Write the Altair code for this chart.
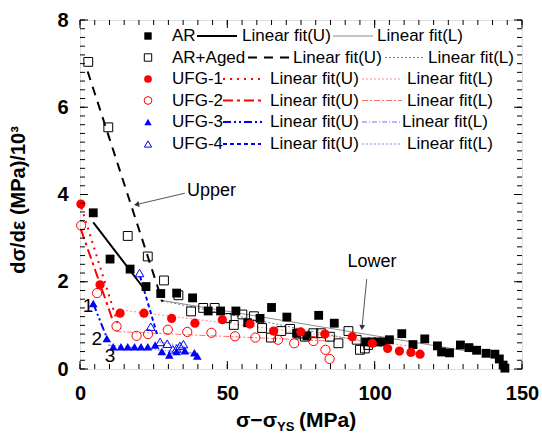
import altair as alt
import pandas as pd

FONT = "Liberation Sans"
W, H = 442, 349
RED, BLUE = "#ff0000", "#0000ff"

# ---------------- data ----------------
ar_x = [4.5, 10.2, 17.0, 22.4, 27.4, 32.8, 38.2, 43.5, 47.7, 52.9, 56.9, 61.1, 65.0, 70.2, 73.5, 77.0, 81.0, 86.3,
        97.0, 99.0, 101.0, 103.0, 105.0, 109.2, 113.0, 117.0, 121.3, 122.7, 125.4, 129.1, 132.0, 134.6, 137.8,
        140.8, 142.3, 143.6, 144.2]
ar_y = [3.58, 2.52, 2.29, 1.89, 1.73, 1.74, 1.63, 1.33, 1.33, 1.33, 1.06, 1.16, 1.41, 1.19, 0.82, 0.76, 1.23, 1.05,
        0.62, 0.62, 0.62, 0.62, 0.67, 0.81, 0.56, 0.69, 0.53, 0.39, 0.37, 0.55, 0.49, 0.43, 0.36,
        0.34, 0.23, 0.09, 0.02]

aged_x = [2.8, 9.6, 16.2, 23.0, 28.5, 33.4, 37.7, 41.8, 45.7, 49.8, 52.2, 55.1, 59.0, 61.8, 64.8, 68.3, 71.3,
          74.3, 76.3, 79.2, 81.8, 84.8, 87.7, 91.1, 93.9, 95.0, 96.7, 97.8]
aged_y = [7.04, 5.54, 3.05, 2.58, 2.03, 1.69, 1.32, 1.40, 1.40, 1.17, 1.01, 1.25, 1.21, 0.94, 0.72, 0.87, 0.92,
          0.81, 0.74, 0.82, 0.82, 0.74, 0.59, 0.87, 0.67, 0.44, 0.47, 0.55]

ufg1_x = [0.3, 6.8, 13.6, 21.7, 31.1, 39.0, 48.3, 57.7, 65.7, 74.9, 83.1, 92.4, 99.2, 104.4, 108.4, 112.3, 115.4]
ufg1_y = [3.78, 1.93, 1.28, 1.28, 1.16, 1.05, 1.13, 1.03, 0.87, 0.85, 0.80, 0.74, 0.59, 0.47, 0.41, 0.38, 0.34]

ufg2_x = [0.4, 5.8, 12.4, 19.2, 23.1, 29.8, 36.4, 44.6, 52.6, 59.5, 67.2, 72.7, 79.2, 83.3, 84.7]
ufg2_y = [3.29, 1.74, 0.98, 0.76, 0.80, 0.90, 0.85, 0.83, 0.75, 0.72, 0.67, 0.59, 0.64, 0.44, 0.23]

ufg3_x = [4.5, 9.1, 11.3, 13.9, 16.2, 18.5, 20.7, 23.0, 25.5, 27.8, 30.3, 32.8, 35.6, 38.8, 39.8]
ufg3_y = [1.50, 0.70, 0.51, 0.51, 0.51, 0.51, 0.51, 0.51, 0.55, 0.40, 0.32, 0.40, 0.42, 0.37, 0.30]

ufg4_x = [20.2, 24.0, 27.2, 29.6, 31.5, 32.8, 33.9, 35.1]
ufg4_y = [2.20, 0.97, 0.62, 0.58, 0.45, 0.47, 0.53, 0.57]

# linear-fit segments (end points)
fit_ar_u = ([4.5, 21.3], [3.36, 1.88])
fit_ar_l = ([27.1, 136.0], [1.58, 0.36])
fit_aged_u = ([2.6, 28.0], [6.82, 1.54])
fit_aged_l = ([28.0, 98.0], [1.56, 0.60])
fit_ufg1_u = ([0.5, 12.8], [3.70, 1.05])
fit_ufg1_l = ([13.0, 115.0], [1.36, 0.50])
fit_ufg2_u = ([0.3, 11.1], [3.20, 1.12])
fit_ufg2_l = ([12.0, 85.0], [0.86, 0.64])
fit_ufg3_u = ([4.5, 9.1], [1.50, 0.72])
fit_ufg3_l = ([9.5, 40.0], [0.55, 0.35])
fit_ufg4_u = ([20.4, 26.4], [2.12, 0.74])
fit_ufg4_l = ([27.0, 35.5], [0.62, 0.52])

series_names = ["AR", "AR+Aged", "UFG-1", "UFG-2", "UFG-3", "UFG-4"]
fit_u_label = "Linear fit(U)"
fit_l_label = "Linear fit(L)"

x_major = [0, 50, 100, 150]
y_major = [0, 2, 4, 6, 8]
x_minor = list(range(0, 151, 5))
y_minor = [round(i * 0.2, 1) for i in range(41)]

# annotations
upper_arrow = ([35.6, 19.2], [4.03, 3.77])
lower_arrow = ([97.3, 95.7], [2.06, 0.95])
upper_text = (36.3, 4.08, "Upper")
lower_text = (99.1, 2.45, "Lower")
num_labels_x = [2.7, 5.7, 10.2]
num_labels_y = [1.44, 0.69, 0.30]
num_labels_t = ["1", "2", "3"]

# ---------------- encodings ----------------
XS = alt.Scale(domain=[0, 150], nice=False, zero=False)
YS = alt.Scale(domain=[0, 8], nice=False, zero=False)
XA = alt.Axis(values=x_major, ticks=False, domain=False, grid=False, title=None, labelFont=FONT,
              labelFontSize=20, labelFontWeight="bold", labelColor="black", labelPadding=14, labelFlush=False)
YA = alt.Axis(values=y_major, ticks=False, domain=False, grid=False, title=None, labelFont=FONT,
              labelFontSize=20, labelFontWeight="bold", labelColor="black", labelPadding=12)


def X(f="x"):
    return alt.X(f"{f}:Q", scale=XS, axis=XA)


def Y(f="y"):
    return alt.Y(f"{f}:Q", scale=YS, axis=YA)


layers = []


def line(seg, color, width, dash=None):
    df = pd.DataFrame({"x": seg[0], "y": seg[1]})
    kw = dict(color=color, strokeWidth=width)
    if dash:
        kw["strokeDash"] = dash
    return alt.Chart(df).mark_line(**kw).encode(x=X(), y=Y())


def pts(xs, ys, shape, color, filled, size):
    df = pd.DataFrame({"x": xs, "y": ys})
    return alt.Chart(df).mark_point(shape=shape, color=color, filled=filled, size=size, opacity=1,
                                    strokeWidth=1).encode(x=X(), y=Y())


STY = {
    "AR": dict(U=("black", 2, None), L=("#8c8c8c", 1, None)),
    "AR+Aged": dict(U=("black", 2, [9, 7]), L=("#7a7a7a", 1, [2, 2])),
    "UFG-1": dict(U=(RED, 2, [2, 5]), L=("#ff8a8a", 1, [2, 2])),
    "UFG-2": dict(U=(RED, 2, [10, 4, 3, 4]), L=("#ff7070", 1, [6, 2, 2, 2])),
    "UFG-3": dict(U=(BLUE, 2, [8, 3, 2, 3, 2, 3]), L=("#7070ff", 1, [5, 2, 1, 2])),
    "UFG-4": dict(U=(BLUE, 2, [4, 3]), L=("#8a8aff", 1, [2, 2])),
}
MARK = {
    "AR": ("square", "black", True, 78),
    "AR+Aged": ("square", "black", False, 78),
    "UFG-1": ("circle", RED, True, 85),
    "UFG-2": ("circle", RED, False, 85),
    "UFG-3": ("triangle-up", BLUE, True, 75),
    "UFG-4": ("triangle-up", BLUE, False, 75),
}
FITS = {
    "AR": (fit_ar_u, fit_ar_l), "AR+Aged": (fit_aged_u, fit_aged_l),
    "UFG-1": (fit_ufg1_u, fit_ufg1_l), "UFG-2": (fit_ufg2_u, fit_ufg2_l),
    "UFG-3": (fit_ufg3_u, fit_ufg3_l), "UFG-4": (fit_ufg4_u, fit_ufg4_l),
}
DATA = {
    "AR": (ar_x, ar_y), "AR+Aged": (aged_x, aged_y), "UFG-1": (ufg1_x, ufg1_y),
    "UFG-2": (ufg2_x, ufg2_y), "UFG-3": (ufg3_x, ufg3_y), "UFG-4": (ufg4_x, ufg4_y),
}

# fit lines
for name in series_names:
    u, l = FITS[name]
    c, w, d = STY[name]["L"]
    layers.append(line(l, c, w, d))
    c, w, d = STY[name]["U"]
    layers.append(line(u, c, w, d))

# markers
for name in series_names:
    shp, col, fil, sz = MARK[name]
    layers.append(pts(DATA[name][0], DATA[name][1], shp, col, fil, sz))

# ticks (inward, on all four sides)
def xticks(vals, length):
    df = pd.DataFrame({"x": vals})
    base = alt.Chart(df).mark_rule(color="black", strokeWidth=1)
    return [base.encode(x=X(), y=alt.value(H), y2=alt.value(H - length)),
            base.encode(x=X(), y=alt.value(0), y2=alt.value(length))]


def yticks(vals, length):
    df = pd.DataFrame({"y": vals})
    base = alt.Chart(df).mark_rule(color="black", strokeWidth=1)
    return [base.encode(y=Y(), x=alt.value(0), x2=alt.value(length)),
            base.encode(y=Y(), x=alt.value(W), x2=alt.value(W - length))]


layers += xticks(x_minor, 5) + xticks(x_major, 8) + yticks(y_minor, 5) + yticks(y_major, 8)

# annotations
for arr in (upper_arrow, lower_arrow):
    layers.append(line(arr, "#555555", 1))
layers.append(alt.Chart(pd.DataFrame({"x": [upper_arrow[0][1]], "y": [upper_arrow[1][1]]}))
              .mark_point(shape="triangle-left", filled=True, color="#333333", size=35, angle=348, opacity=1)
              .encode(x=X(), y=Y()))
layers.append(alt.Chart(pd.DataFrame({"x": [lower_arrow[0][1]], "y": [lower_arrow[1][1]]}))
              .mark_point(shape="triangle-down", filled=True, color="#333333", size=35, angle=6, opacity=1)
              .encode(x=X(), y=Y()))
layers.append(alt.Chart(pd.DataFrame({"x": [upper_text[0]], "y": [upper_text[1]], "t": [upper_text[2]]}))
              .mark_text(font=FONT, fontSize=18, align="left", baseline="middle", color="black")
              .encode(x=X(), y=Y(), text="t:N"))
layers.append(alt.Chart(pd.DataFrame({"x": [lower_text[0]], "y": [lower_text[1]], "t": [lower_text[2]]}))
              .mark_text(font=FONT, fontSize=18, align="center", baseline="middle", color="black")
              .encode(x=X(), y=Y(), text="t:N"))
layers.append(alt.Chart(pd.DataFrame({"x": num_labels_x, "y": num_labels_y, "t": num_labels_t}))
              .mark_text(font=FONT, fontSize=19, align="center", baseline="middle", color="black")
              .encode(x=X(), y=Y(), text="t:N"))

# ---------------- legend (inside the frame, pixel layout) ----------------
LEG_Y = [16, 37.5, 59, 80.5, 102, 124]
LEG_SYM_X = 68
LEG_LAB_X = 92
SEG1 = [(117, 157), (168, 210), (143, 181), (143, 181), (143, 185), (143, 181)]
FITU_X = [162, 213, 190, 190, 190, 190]
SEG2 = [(253, 293), (305, 345), (282, 322), (282, 322), (282, 320), (282, 322)]
FITL_X = [297, 348, 327, 327, 322, 327]

txt_rows = []
for i, name in enumerate(series_names):
    yy = LEG_Y[i]
    shp, col, fil, sz = MARK[name]
    layers.append(alt.Chart(pd.DataFrame({"a": [0]})).mark_point(
        shape=shp, color=col, filled=fil, size=sz * 0.7, opacity=1, strokeWidth=1)
        .encode(x=alt.value(LEG_SYM_X), y=alt.value(yy)))
    for seg, key in ((SEG1[i], "U"), (SEG2[i], "L")):
        c, w, d = STY[name][key]
        kw = dict(color=c, strokeWidth=w)
        if d:
            kw["strokeDash"] = d
        layers.append(alt.Chart(pd.DataFrame({"a": [0]})).mark_rule(**kw)
                      .encode(x=alt.value(seg[0]), x2=alt.value(seg[1]), y=alt.value(yy)))
    txt_rows += [(LEG_LAB_X, yy, name), (FITU_X[i], yy, fit_u_label), (FITL_X[i], yy, fit_l_label)]

leg_df = pd.DataFrame(txt_rows, columns=["px", "py", "t"])
layers.append(alt.Chart(leg_df).mark_text(font=FONT, fontSize=17, align="left", baseline="middle", color="black")
              .encode(x=alt.X("px:Q", scale=None), y=alt.Y("py:Q", scale=None), text="t:N"))

# ---------------- axis titles ----------------
xt_df = pd.DataFrame({"px": [197], "py": [407], "t": ["σ−σ"]})
layers.append(alt.Chart(xt_df).mark_text(font=FONT, fontSize=21, fontWeight="bold", align="right",
                                         baseline="alphabetic", color="black")
              .encode(x=alt.X("px:Q", scale=None), y=alt.Y("py:Q", scale=None), text="t:N"))
xs_df = pd.DataFrame({"px": [197], "py": [411], "t": ["YS"]})
layers.append(alt.Chart(xs_df).mark_text(font=FONT, fontSize=13, fontWeight="bold", align="left",
                                         baseline="alphabetic", color="black")
              .encode(x=alt.X("px:Q", scale=None), y=alt.Y("py:Q", scale=None), text="t:N"))
xu_df = pd.DataFrame({"px": [219], "py": [407], "t": ["(MPa)"]})
layers.append(alt.Chart(xu_df).mark_text(font=FONT, fontSize=21, fontWeight="bold", align="left",
                                         baseline="alphabetic", color="black")
              .encode(x=alt.X("px:Q", scale=None), y=alt.Y("py:Q", scale=None), text="t:N"))
yt_df = pd.DataFrame({"px": [-61], "py": [180], "t": ["dσ/dε (MPa)/10³"]})
layers.append(alt.Chart(yt_df).mark_text(font=FONT, fontSize=20, fontWeight="bold", align="center",
                                         baseline="middle", angle=270, color="black")
              .encode(x=alt.X("px:Q", scale=None), y=alt.Y("py:Q", scale=None), text="t:N"))

chart = (
    alt.layer(*layers)
    .properties(width=W, height=H, autosize=alt.AutoSizeParams(type="none"),
                padding={"left": 80, "top": 20, "right": 20, "bottom": 68})
    .configure_view(stroke="black", strokeWidth=1.5)
    .configure(background="white")
)

chart.save("out.html", embed_options={"renderer": "svg", "actions": False})
